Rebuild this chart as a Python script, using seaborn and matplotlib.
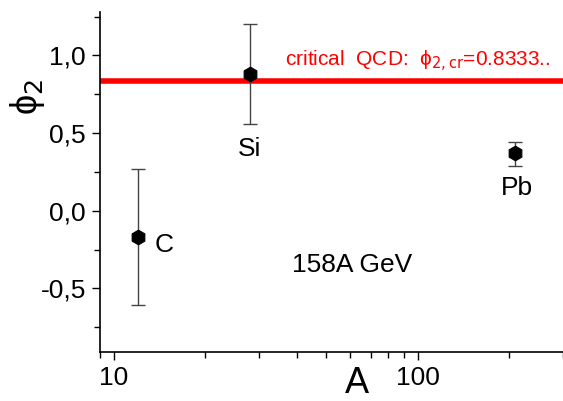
import matplotlib
matplotlib.use("Agg")
import matplotlib.pyplot as plt
import seaborn as sns
import numpy as np
import pandas as pd
from matplotlib.ticker import FuncFormatter, MultipleLocator, LogLocator, NullFormatter, FixedLocator

# Data
elements = ["C", "Si", "Pb"]
mass_A = [12, 28, 208]
phi2 = [-0.17, 0.88, 0.37]
err_low = [0.44, 0.32, 0.08]
err_high = [0.44, 0.32, 0.07]
phi2_crit = 0.8333
energy_label = "158A GeV"

sns.set_theme(style="white")
plt.rcParams['font.family'] = ['Liberation Sans', 'DejaVu Sans']

df = pd.DataFrame({"A": mass_A, "phi2": phi2, "el": elements})

fig = plt.figure(figsize=(5.63, 4.01), dpi=100)
ax = fig.add_axes([100/563, 1-352/401, 1-100/563, (352-12)/401])

ax.axhline(phi2_crit, color="#ff0000", lw=4, zorder=1)

ax.errorbar(df["A"], df["phi2"], yerr=[err_low, err_high], fmt="none",
            ecolor="#444444", elinewidth=1.0, capsize=5, capthick=1.0, zorder=2)
sns.scatterplot(data=df, x="A", y="phi2", marker="h", s=110, color="black",
                edgecolor="black", ax=ax, zorder=3, legend=False)

ax.set_xscale("log")
ax.set_xlim(9, 300)
ax.set_ylim(-0.91, 1.28)

ax.yaxis.set_major_locator(MultipleLocator(0.5))
ax.yaxis.set_minor_locator(MultipleLocator(0.25))
ax.yaxis.set_major_formatter(FuncFormatter(lambda v, p: f"{v:.1f}".replace(".", ",").replace("-0,0", "0,0")))
ax.xaxis.set_major_locator(FixedLocator([10, 100]))
ax.xaxis.set_major_formatter(FuncFormatter(lambda v, p: f"{int(round(v))}"))
ax.xaxis.set_minor_locator(LogLocator(base=10, subs=np.arange(2, 10), numticks=20))
ax.xaxis.set_minor_formatter(NullFormatter())

ax.tick_params(axis="both", which="major", direction="out", length=6, width=1,
               labelsize=19, color="black", labelcolor="black", pad=4)
ax.tick_params(axis="both", which="minor", direction="out", length=4, width=1, color="black")
ax.tick_params(axis="x", which="both", bottom=True)
ax.tick_params(axis="y", which="both", left=True)

for s in ["top", "right"]:
    ax.spines[s].set_visible(False)
for s in ["left", "bottom"]:
    ax.spines[s].set_color("black")
    ax.spines[s].set_linewidth(1.2)

ax.set_xlabel("A", fontsize=26, color="black")
ax.xaxis.set_label_coords((357-100)/463, -0.04)
ax.set_ylabel("ϕ$_2$", fontsize=26, color="black")
ax.yaxis.set_label_coords(-0.115, 0.75)

# Element labels
offsets = {"C": (12, -6), "Si": (0, -54), "Pb": (2, -25)}
for el, a, p in zip(elements, mass_A, phi2):
    dx, dy = offsets[el]
    ha = "left" if el == "C" else "center"
    ax.annotate(el, (a, p), xytext=(dx, dy), textcoords="offset points",
                fontsize=19, ha=ha, va="center", color="black")

ax.text(0.545, 0.255, energy_label, transform=ax.transAxes, fontsize=19,
        ha="center", va="center", color="black")

ax.text(0.40, 0.855, "critical  QCD:  ϕ$_{\\mathrm{2,cr}}$=0.8333..", transform=ax.transAxes,
        fontsize=15, color="#ff0000", ha="left", va="center")

fig.savefig("out.png", dpi=100)
